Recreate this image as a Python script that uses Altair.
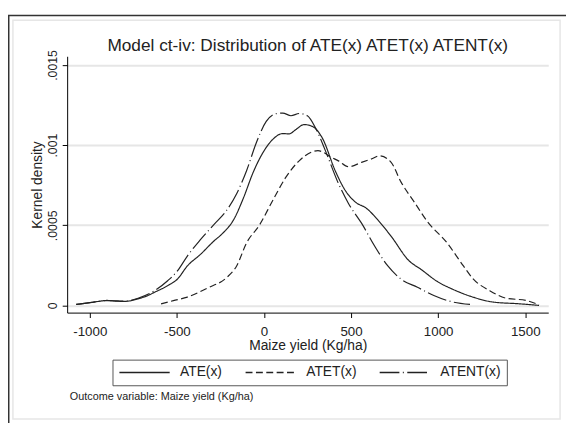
import altair as alt
import pandas as pd

series_names = ["ATE(x)", "ATET(x)", "ATENT(x)"]

ate_x = [-1078, -1000, -950, -900, -850, -800, -723, -670, -628, -553, -497, -440, -365, -289, -232, -175,
         -119, -62, -6, 51, 108, 145, 183, 230, 277, 334, 409, 466, 523, 589, 654, 730, 834, 900, 994,
         1089, 1183, 1315, 1466, 1579]
ate_y = [0.000006, 0.000017, 0.000025, 0.000031, 0.000027, 0.000025, 0.000041, 0.000060, 0.000082, 0.000123,
         0.000164, 0.000246, 0.000318, 0.000400, 0.000455, 0.000533, 0.000667, 0.000830, 0.000953, 0.001036,
         0.001072, 0.001070, 0.001097, 0.001128, 0.001117, 0.001046, 0.000840, 0.000718, 0.000646, 0.000605,
         0.000533, 0.000431, 0.000277, 0.000226, 0.000150, 0.000098, 0.000058, 0.000021, 0.000010, 0.000000]

atet_x = [-591, -520, -440, -327, -213, -157, -100, -25, 51, 126, 202, 277, 310, 340, 372, 430, 485, 560, 620,
          664, 730, 787, 862, 938, 1051, 1145, 1202, 1296, 1390, 1504, 1579]
atet_y = [0.000010, 0.000030, 0.000052, 0.000107, 0.000175, 0.000246, 0.000390, 0.000503, 0.000656, 0.000800,
          0.000902, 0.000958, 0.000965, 0.000955, 0.000933, 0.000900, 0.000865, 0.000892, 0.000915, 0.000933,
          0.000892, 0.000769, 0.000646, 0.000523, 0.000390, 0.000246, 0.000164, 0.000092, 0.000045, 0.000031,
          0.000004]

atent_x = [-1078, -1000, -900, -800, -723, -628, -553, -497, -440, -365, -289, -213, -157, -100, -44, 13, 70,
           108, 155, 202, 249, 296, 353, 428, 485, 560, 636, 711, 787, 881, 975, 1070, 1183]
atent_y = [0.000006, 0.000017, 0.000030, 0.000027, 0.000045, 0.000092, 0.000154, 0.000215, 0.000308, 0.000410,
           0.000503, 0.000595, 0.000697, 0.000840, 0.001015, 0.001148, 0.001196, 0.001200, 0.001183, 0.001197,
           0.001183, 0.001107, 0.000964, 0.000759, 0.000636, 0.000513, 0.000369, 0.000246, 0.000164, 0.000113,
           0.000062, 0.000025, 0.000006]

x_ticks = [-1000, -500, 0, 500, 1000, 1500]
y_ticks = [0, 0.0005, 0.001, 0.0015]

title_text = "Model ct-iv: Distribution of ATE(x) ATET(x) ATENT(x)"
note_text = "Outcome variable: Maize yield (Kg/ha)"

rows = []
for name, xs, ys in zip(series_names, [ate_x, atet_x, atent_x], [ate_y, atet_y, atent_y]):
    for xv, yv in zip(xs, ys):
        rows.append({"series": name, "x": xv, "y": yv})
df = pd.DataFrame(rows)

FONT = "Liberation Sans"
INK = "#222222"

lines = alt.Chart(df).mark_line(interpolate="monotone", strokeWidth=1.2, color=INK).encode(
    x=alt.X("x:Q",
            scale=alt.Scale(domain=[-1130, 1632], nice=False, zero=False),
            axis=alt.Axis(values=x_ticks, title="Maize yield (Kg/ha)", grid=False,
                          labelExpr="datum.value + ''",
                          labelFontSize=13.5, labelPadding=7, titlePadding=0.5)),
    y=alt.Y("y:Q",
            scale=alt.Scale(domain=[-0.0000449, 0.001554], nice=False, zero=False),
            axis=alt.Axis(values=y_ticks, title="Kernel density", grid=True, gridColor="#e6e6e6", gridWidth=2,
                          labelAngle=270, labelAlign="center", labelBaseline="bottom", labelFontSize=12.5,
                          labelPadding=3, titlePadding=2,
                          labelExpr="datum.value == 0 ? '0' : replace(format(datum.value, '.4~f'), '0.', '.')")),
    strokeDash=alt.StrokeDash("series:N",
                              scale=alt.Scale(domain=series_names,
                                              range=[[1, 0], [7, 3.5], [20, 3.5, 1, 3.5]]),
                              legend=alt.Legend(title=None, orient="none", legendX=46, legendY=307.7,
                                                direction="horizontal", symbolType="M-1,0H7.5", symbolSize=144,
                                                symbolStrokeWidth=1.5, symbolStrokeColor=INK,
                                                labelFontSize=14, labelFont=FONT, labelColor=INK,
                                                labelOffset=48.5, columnPadding=20, padding=6,
                                                strokeColor="#555555", fillColor="white")),
)

deco = pd.DataFrame([{"k": 1}])
outer = alt.Chart(deco).mark_rect(fillOpacity=0, stroke="#333333", strokeWidth=1.5).encode(
    x=alt.value(-59.25), x2=alt.value(560), y=alt.value(-41.3), y2=alt.value(450))
inner = alt.Chart(deco).mark_rect(fillOpacity=0, stroke="#e6e6e6", strokeWidth=1.5).encode(
    x=alt.value(-55), x2=alt.value(500), y=alt.value(-36.5), y2=alt.value(368))
title = alt.Chart(deco).mark_text(align="center", baseline="alphabetic", fontSize=17.5, font=FONT,
                                  color=INK).encode(
    x=alt.value(244), y=alt.value(-5.7), text=alt.value(title_text))
note = alt.Chart(deco).mark_text(align="left", baseline="middle", fontSize=11, font=FONT, color=INK).encode(
    x=alt.value(2.7), y=alt.value(346), text=alt.value(note_text))

chart = alt.layer(outer, inner, lines, title, note).properties(
    width=488, height=260,
    autosize="none",
    padding={"left": 60, "top": 46, "right": 18, "bottom": 109},
    background="white",
).configure_view(stroke="transparent").configure_axis(
    domainColor="black", tickColor="black", tickSize=5, labelColor=INK, labelFont=FONT,
    titleFont=FONT, titleFontSize=14, titleFontWeight="normal", titleColor=INK,
)

chart.save("out.html", embed_options={"renderer": "svg", "actions": False})
